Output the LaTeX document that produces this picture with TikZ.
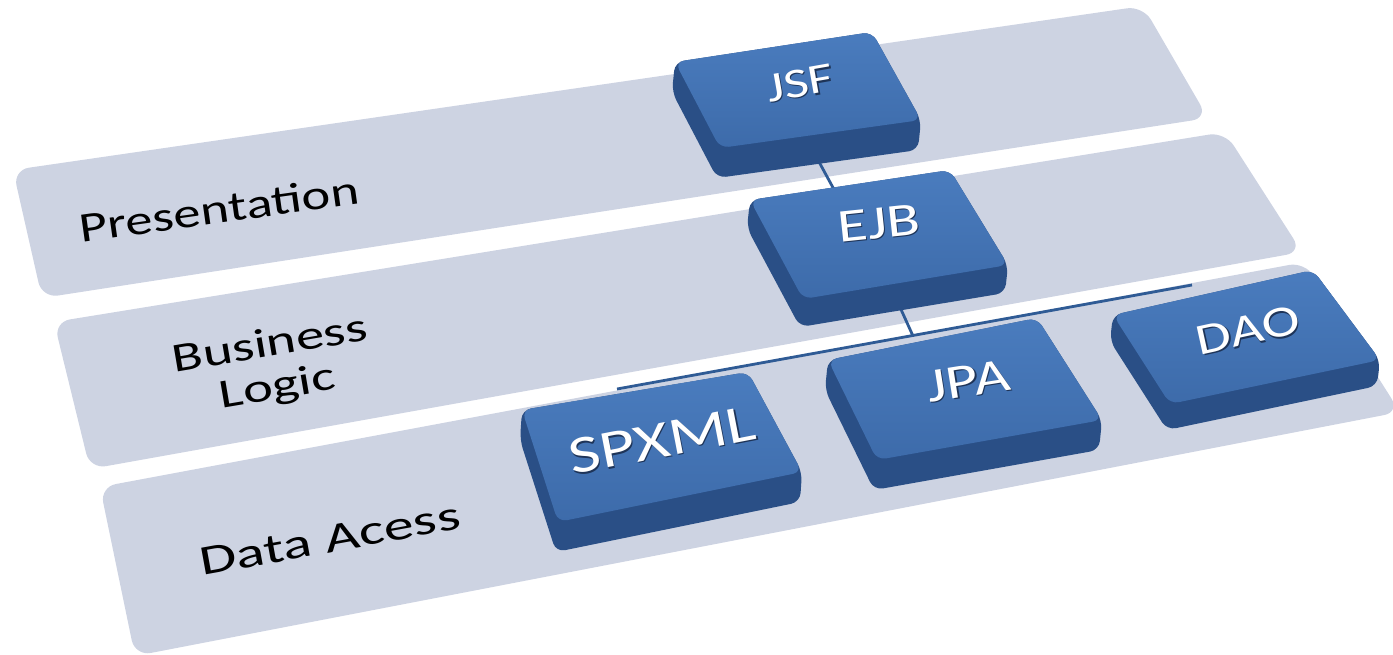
\documentclass[tikz,border=0pt]{standalone}
\usepackage{fontspec}
\setmainfont{Carlito}
\usetikzlibrary{calc}
\definecolor{bandc}{HTML}{CDD3E2}
\definecolor{facec}{HTML}{3D6BAA}
\definecolor{facelight}{HTML}{4A7CBE}
\definecolor{rimc}{HTML}{2A4F86}
\definecolor{connc}{HTML}{2F5B95}
\definecolor{shadowtxt}{HTML}{1E3458}
\tikzset{
  band/.style={fill=bandc, rounded corners=16pt},
  rim/.style={fill=rimc, rounded corners=9pt},
  face/.style={top color=facelight, bottom color=facec, rounded corners=9pt},
  conn/.style={draw=connc, line width=2.8pt},
  layerlbl/.style={inner sep=0pt, text=black},
  boxlbl/.style={inner sep=0pt, text=white},
}
% #1 A, #2 B, #3 C, #4 D, #5 thickness vector
\newcommand\pbox[5]{%
  \path[rim] (#1) -- (#2) -- (#3) -- ($(#3)+(#5)$) -- ($(#4)+(#5)$) -- ($(#1)+(#5)$) -- cycle;
  \shade[face] (#1) -- (#2) -- (#3) -- (#4) -- cycle;
}
% #1 name, #2 position, #3 angle, #4 size, #5 text
\newcommand\btext[5]{%
  \node[boxlbl, text=shadowtxt, rotate=#3, xscale=1.3, font=\fontsize{#4}{#4}\selectfont] at ($(#2)+(1.4,1.4)$) {#5};
  \node[boxlbl, rotate=#3, xscale=1.3, font=\fontsize{#4}{#4}\selectfont] (#1) at (#2) {#5};
}
\begin{document}
\begin{tikzpicture}[x=1pt,y=-1pt]
\useasboundingbox (0,0) rectangle (1393,654);
% bands
\path[band] (13,170) -- (1143,6) -- (1208,118) -- (42,298) -- cycle;
\path[band] (54,322) -- (1225,132) -- (1302,252) -- (90,469) -- cycle;
\path[band] (100,487) -- (1305,262) -- (1400,412) -- (135,656) -- cycle;
% layer labels
\node[layerlbl, rotate=8, xscale=1.3, font=\fontsize{42}{42}\selectfont] (pres) at (219,209) {Presentation};
\node[layerlbl, align=center, rotate=9.6, xscale=1.38, font=\fontsize{41}{43}\selectfont] (busl-label) at (274,367) {Business\\Logic};
\node[layerlbl, rotate=10.3, xscale=1.43, font=\fontsize{42}{42}\selectfont] (data) at (330,539) {Data Acess};
% connector coordinates
\coordinate (jsfb) at (818,160);
\coordinate (ejbt) at (837,195);
\coordinate (ejbb) at (899,305);
\coordinate (busm) at (913,336);
\coordinate (busl) at (617,389);
\coordinate (busr) at (1192,285);
\draw[conn] (jsfb) -- (ejbt);
\draw[conn] (ejbb) -- (busm);
\draw[conn] (busl) -- (busr);
% boxes
\pbox{675,62}{872,32}{921,120}{720,148}{-3,30}
\pbox{750,200}{950,170}{1008,265}{803,299}{-3,28}
\pbox{522,410}{748,372}{802,472}{558,522}{-2,30}
\pbox{828,360}{1037,318}{1102,420}{877,460}{-3,30}
\pbox{1113,315}{1313,270}{1380,360}{1170,404}{-3,26}
% box labels
\btext{jsf}{800,83}{10}{42}{JSF}
\btext{ejb}{879,223}{6}{47}{EJB}
\btext{spxml}{662,440}{11}{53}{SPXML}
\btext{jpa}{968,381}{9}{48}{JPA}
\btext{dao}{1248,330}{12.4}{44}{DAO}
\end{tikzpicture}
\end{document}
